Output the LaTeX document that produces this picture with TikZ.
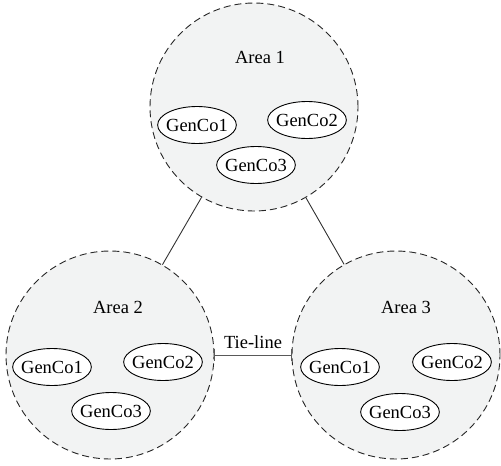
\documentclass[tikz,border=0pt]{standalone}
\usepackage{fontspec}
\setmainfont{Liberation Serif}
\usetikzlibrary{shapes.geometric,arrows.meta}
\definecolor{areafill}{HTML}{F2F3F3}
\tikzset{
  area/.style={circle, draw=black!85, fill=areafill, line width=0.9pt,
    dash pattern=on 7pt off 4pt, minimum size=208pt, inner sep=0pt},
  genco/.style={ellipse, draw=black, fill=white, line width=0.9pt,
    minimum height=37pt, inner xsep=-3pt, inner ysep=0pt},
  lbl/.style={inner sep=0pt},
  link/.style={draw=black!80, line width=0.9pt}
}
\begin{document}
\begin{tikzpicture}[x=1pt,y=-1pt, font=\fontsize{18.5}{22}\selectfont]
\useasboundingbox (0,0) rectangle (501,466);
% areas
\node[area] (a1) at (254,107) {};
\node[area] (a2) at (110,355) {};
\node[area] (a3) at (396,355) {};
% labels
\node[lbl] (l1) at (260,57) {Area 1};
\node[lbl] (l2) at (118,307) {Area 2};
\node[lbl] (l3) at (406,307) {Area 3};
% gencos area 1
\node[genco] (g11) at (197,125) {GenCo1};
\node[genco] (g12) at (307,120) {GenCo2};
\node[genco] (g13) at (256,165) {GenCo3};
% gencos area 2
\node[genco] (g21) at (52,367) {GenCo1};
\node[genco] (g22) at (163,362) {GenCo2};
\node[genco] (g23) at (111,411) {GenCo3};
% gencos area 3
\node[genco] (g31) at (340,367) {GenCo1};
\node[genco] (g32) at (452,362) {GenCo2};
\node[genco] (g33) at (400,412) {GenCo3};
% connectors
\draw[link] (a1) -- (a2);
\draw[link] (a1) -- (a3);
\draw[link, draw=black!65, {Bar[width=12pt,line width=0.9pt]}-{Bar[width=12pt,line width=0.9pt]}] (a2.east) -- node[above=3pt, text=black] (tl) {Tie-line} (a3.west);
\end{tikzpicture}
\end{document}
